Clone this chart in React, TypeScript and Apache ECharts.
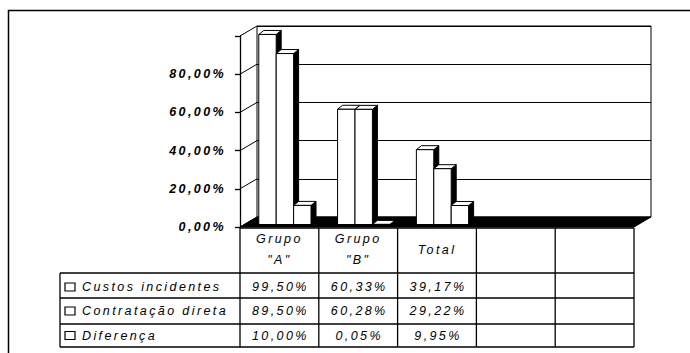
import React, { useEffect, useRef } from 'react';
import * as echarts from 'echarts';

// ---- data ----
const categories = ['Grupo "A"', 'Grupo "B"', 'Total', '', ''];
const headerLabels = ['Grupo\n"A"', 'Grupo\n"B"', 'Total', '', ''];
const seriesNames = ['Custos incidentes', 'Contratação direta', 'Diferença'];
const custosIncidentes: (number | null)[] = [99.5, 60.33, 39.17, null, null];
const contratacaoDireta: (number | null)[] = [89.5, 60.28, 29.22, null, null];
const diferenca: (number | null)[] = [10.0, 0.05, 9.95, null, null];
const yTicks = [0, 20, 40, 60, 80, 100];

// ---- layout ----
const FONT = '"Liberation Sans", Arial, sans-serif';
const FRONT = { left: 240, top: 36, width: 394, height: 191 };
const DEPTH = { dx: 17, dy: -10 };
const BAR = { ratio: 0.221, shiftX: 5.5, shiftY: -2.5, dx: 5, dy: -4 };
const TABLE = { left: 60, headerTop: 228, rowLines: [273, 298, 324, 347], rowCenters: [287, 311, 335.5], keyX: 65, textX: 82 };

const fmt = (v: number) => v.toFixed(2).replace('.', ',') + '%';

const allSeries = [custosIncidentes, contratacaoDireta, diferenca];

function makeRenderItem(s: number) {
  return (params: any, api: any) => {
    const i = api.value(0);
    const v = api.value(1);
    const base = api.coord([i, 0]);
    const top = api.coord([i, v]);
    const band = api.size([1, 0])[0];
    const w = band * BAR.ratio;
    const x0 = base[0] - 1.5 * w + s * w + BAR.shiftX;
    const x1 = x0 + w;
    const y0 = base[1] + BAR.shiftY;
    const y1 = top[1] + BAR.shiftY;
    return {
      type: 'group',
      children: [
        {
          type: 'polygon',
          shape: { points: [[x1, y0], [x1 + BAR.dx, y0 + BAR.dy], [x1 + BAR.dx, y1 + BAR.dy], [x1, y1]] },
          style: { fill: '#000', stroke: '#000', lineWidth: 1 },
        },
        {
          type: 'polygon',
          shape: { points: [[x0, y1], [x0 + BAR.dx, y1 + BAR.dy], [x1 + BAR.dx, y1 + BAR.dy], [x1, y1]] },
          style: { fill: '#fff', stroke: '#000', lineWidth: 1 },
        },
        {
          type: 'rect',
          shape: { x: x0, y: y1, width: w, height: Math.max(y0 - y1, 0.1) },
          style: { fill: '#fff', stroke: '#000', lineWidth: 1 },
        },
      ],
    };
  };
}

function buildGraphics() {
  const g: any[] = [];
  const band = FRONT.width / categories.length;
  const right = FRONT.left + FRONT.width;
  const bottom = FRONT.top + FRONT.height;
  const line = (x1: number, y1: number, x2: number, y2: number, z = 5, w = 1) => ({
    type: 'line', z, shape: { x1, y1, x2, y2 }, style: { stroke: '#000', lineWidth: w },
  });
  // outer frame
  g.push({ type: 'rect', z: 0, shape: { x: 8.5, y: 10.5, width: 720, height: 400 }, style: { fill: 'none', stroke: '#000', lineWidth: 1.5 } });
  // floor
  g.push({
    type: 'polygon', z: 1,
    shape: { points: [[FRONT.left, bottom], [right, bottom], [right + DEPTH.dx, bottom + DEPTH.dy], [FRONT.left + DEPTH.dx, bottom + DEPTH.dy]] },
    style: { fill: '#000', stroke: '#000', lineWidth: 1 },
  });
  // side wall lines
  yTicks.forEach((t) => {
    const y = bottom - (FRONT.height * t) / 100;
    g.push(line(FRONT.left, y, FRONT.left + DEPTH.dx, y + DEPTH.dy, 1));
  });
  // table lines
  g.push(line(FRONT.left, TABLE.headerTop, right, TABLE.headerTop, 5, 1.3));
  TABLE.rowLines.forEach((y) => g.push(line(TABLE.left, y, right, y, 5, 1.3)));
  g.push(line(TABLE.left, TABLE.rowLines[0], TABLE.left, TABLE.rowLines[TABLE.rowLines.length - 1], 5, 1.3));
  for (let i = 0; i <= categories.length; i++) {
    const x = FRONT.left + band * i;
    g.push(line(x, TABLE.headerTop, x, TABLE.rowLines[TABLE.rowLines.length - 1], 5, 1.3));
  }
  const textStyle = { fontFamily: FONT, fontSize: 12.5, fontStyle: 'italic', fill: '#000' };
  // header labels
  headerLabels.forEach((lab, i) => {
    if (!lab) return;
    g.push({
      type: 'text', z: 6, x: FRONT.left + band * (i + 0.5), y: (TABLE.headerTop + TABLE.rowLines[0]) / 2 - 1,
      style: { ...textStyle, text: lab, textAlign: 'center', textVerticalAlign: 'middle', lineHeight: 20.5 },
    });
  });
  // rows
  seriesNames.forEach((name, s) => {
    const cy = TABLE.rowCenters[s];
    g.push({ type: 'rect', z: 6, shape: { x: TABLE.keyX, y: cy - 4, width: 10, height: 8 }, style: { fill: '#fff', stroke: '#000', lineWidth: 1.2 } });
    g.push({ type: 'text', z: 6, x: TABLE.textX, y: cy, style: { ...textStyle, text: name, textAlign: 'left', textVerticalAlign: 'middle' } });
    allSeries[s].forEach((v, i) => {
      if (v == null) return;
      g.push({
        type: 'text', z: 6, x: FRONT.left + band * (i + 0.5) + 1, y: cy,
        style: { ...textStyle, text: fmt(v), textAlign: 'center', textVerticalAlign: 'middle' },
      });
    });
  });
  return g;
}

export default function App() {
  const ref = useRef<HTMLDivElement>(null);
  useEffect(() => {
    if (!ref.current) return;
    const chart = echarts.init(ref.current, null, { renderer: 'svg' });
    const backLeft = FRONT.left + DEPTH.dx;
    const backTop = FRONT.top + DEPTH.dy;
    chart.setOption({
      animation: false,
      backgroundColor: '#fff',
      grid: [
        { left: FRONT.left, top: FRONT.top, width: FRONT.width, height: FRONT.height, show: false },
        { left: backLeft, top: backTop, width: FRONT.width, height: FRONT.height, show: true, borderColor: '#000', borderWidth: 1, backgroundColor: '#fff', z: 0 },
      ],
      xAxis: [
        { type: 'category', gridIndex: 0, data: categories, axisLine: { show: false }, axisTick: { show: false }, axisLabel: { show: false }, splitLine: { show: false } },
        { type: 'category', gridIndex: 1, data: categories, axisLine: { show: false }, axisTick: { show: false }, axisLabel: { show: false }, splitLine: { show: false } },
      ],
      yAxis: [
        {
          type: 'value', gridIndex: 0, min: 0, max: 100, interval: 20, z: 3,
          axisLine: { show: true, lineStyle: { color: '#000', width: 1.3 } },
          axisTick: { show: true, length: 5, lineStyle: { color: '#000', width: 1.3 } },
          splitLine: { show: false },
          axisLabel: {
            margin: 14, color: '#000', fontFamily: FONT, fontSize: 12.5, fontWeight: 'bold', fontStyle: 'italic',
            formatter: (v: number) => (v === 100 ? '' : fmt(v)),
          },
        },
        {
          type: 'value', gridIndex: 1, min: 0, max: 100, interval: 20,
          axisLine: { show: false }, axisTick: { show: false }, axisLabel: { show: false },
          splitLine: { show: true, lineStyle: { color: '#000', width: 1 } },
        },
      ],
      series: allSeries.map((arr, s) => ({
        type: 'custom',
        name: seriesNames[s],
        xAxisIndex: 0,
        yAxisIndex: 0,
        z: 2,
        renderItem: makeRenderItem(s),
        encode: { x: 0, y: 1 },
        data: arr.map((v, i) => (v == null ? null : [i, v])).filter((d) => d != null),
      })),
      graphic: buildGraphics(),
    });
    return () => chart.dispose();
  }, []);
  return <div ref={ref} style={{ position: 'fixed', left: 0, top: 0, width: 690, height: 353, letterSpacing: '2.4px' }} />;
}
